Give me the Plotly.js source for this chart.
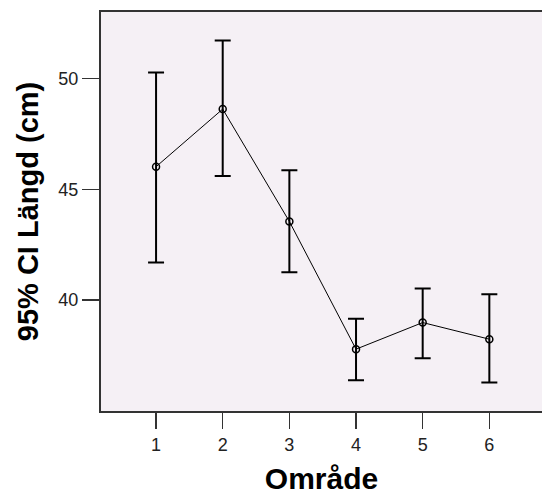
<!DOCTYPE html>
<html>
<head>
<meta charset="utf-8">
<script src="https://cdn.plot.ly/plotly-3.0.1.min.js"></script>
<style>html,body{margin:0;padding:0;background:#fff;}#chart{width:542px;height:495px;}</style>
</head>
<body>
<div id="chart"></div>
<script>
// Data
const omrade = [1, 2, 3, 4, 5, 6];
const meanLangd = [46.02, 48.62, 43.55, 37.79, 38.99, 38.24];
const upperCI = [50.27, 51.71, 45.86, 39.16, 40.53, 40.27];
const lowerCI = [41.70, 45.60, 41.26, 36.39, 37.38, 36.29];
const yTickVals = [40, 45, 50];
const yTickText = ["40", "45", "50"];
const xTickVals = [1, 2, 3, 4, 5, 6];
const xTickText = ["1", "2", "3", "4", "5", "6"];

const errPlus = meanLangd.map((m, i) => upperCI[i] - m);
const errMinus = meanLangd.map((m, i) => m - lowerCI[i]);

const FONT = "'Liberation Sans', Arial, sans-serif";

const trace = {
  x: omrade,
  y: meanLangd,
  type: 'scatter',
  mode: 'lines+markers',
  line: {color: '#000', width: 1},
  marker: {symbol: 'circle-open', size: 7, color: '#000', line: {color: '#000', width: 1.5}},
  error_y: {
    type: 'data', symmetric: false,
    array: errPlus, arrayminus: errMinus,
    color: '#000', thickness: 2, width: 8
  },
  hoverinfo: 'x+y'
};

const layout = {
  width: 542, height: 495,
  margin: {l: 101, r: 0, t: 12, b: 84, pad: 0},
  paper_bgcolor: '#ffffff',
  plot_bgcolor: '#f5f0f5',
  showlegend: false,
  font: {family: FONT, color: '#222'},
  xaxis: {
    range: [0.174, 6.79],
    tickvals: xTickVals, ticktext: xTickText,
    ticks: 'outside', ticklen: 16, tickwidth: 1.5, tickcolor: '#333',
    showline: true, linecolor: '#333', linewidth: 2, mirror: true,
    showgrid: false, zeroline: false,
    tickfont: {family: FONT, size: 18, color: '#222'},
    title: {text: 'Område', font: {family: FONT, size: 30, color: '#000', weight: 'bold'}, standoff: 15},
    fixedrange: true
  },
  yaxis: {
    range: [35, 53],
    tickvals: yTickVals, ticktext: yTickText,
    ticks: 'outside', ticklen: 17, tickwidth: 1.5, tickcolor: '#333',
    showline: true, linecolor: '#333', linewidth: 2, mirror: false,
    showgrid: false, zeroline: false,
    tickfont: {family: FONT, size: 18, color: '#222'},
    title: {text: '95% CI Längd (cm)', font: {family: FONT, size: 29, color: '#000', weight: 'bold'}, standoff: 11},
    fixedrange: true
  }
};

Plotly.newPlot('chart', [trace], layout, {staticPlot: true, displayModeBar: false});
</script>
</body>
</html>
